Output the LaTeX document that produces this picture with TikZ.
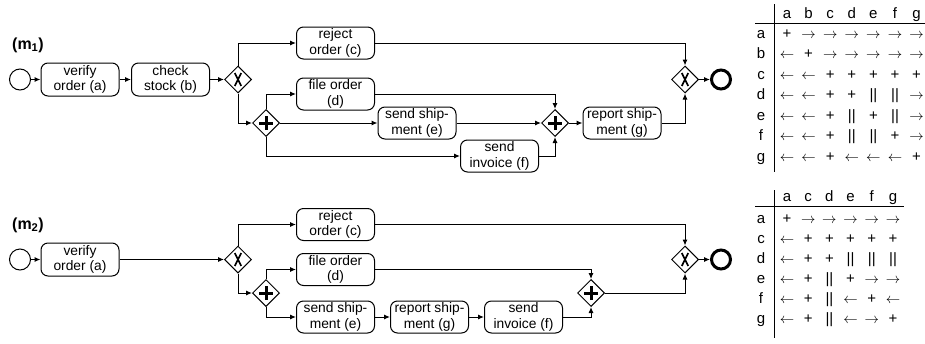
\documentclass[tikz,border=0pt]{standalone}
\usepackage{fontspec}
\setmainfont{Liberation Sans}
\usetikzlibrary{shapes.geometric,arrows.meta}
\newcommand{\tra}{$\rightarrow$}
\newcommand{\tla}{$\leftarrow$}
\newcommand{\tpl}{+}
\newcommand{\tpa}{||}
\begin{document}
\begin{tikzpicture}[x=1pt,y=-1pt,
  task/.style={draw, line width=1pt, rounded corners=7pt, minimum width=78pt, minimum height=33pt,
    inner sep=0.5pt, align=center, font=\fontsize{13.8}{15.8}\selectfont},
  gw/.style={draw, diamond, aspect=1, minimum width=27pt, minimum height=27pt, inner sep=0pt, line width=1pt},
  xorgw/.style={gw, path picture={
    \draw[line width=1.7pt] ([shift={(-3.2pt,-6.5pt)}]path picture bounding box.center) -- ([shift={(3.2pt,6.5pt)}]path picture bounding box.center);
    \draw[line width=1.7pt] ([shift={(-3.2pt,6.5pt)}]path picture bounding box.center) -- ([shift={(3.2pt,-6.5pt)}]path picture bounding box.center);}},
  andgw/.style={gw, path picture={
    \draw[line width=3pt] ([shift={(-7pt,0pt)}]path picture bounding box.center) -- ([shift={(7pt,0pt)}]path picture bounding box.center);
    \draw[line width=3pt] ([shift={(0pt,-7pt)}]path picture bounding box.center) -- ([shift={(0pt,7pt)}]path picture bounding box.center);}},
  startev/.style={draw, circle, minimum size=21pt, inner sep=0pt, line width=1pt},
  endev/.style={draw, circle, minimum size=19pt, inner sep=0pt, line width=3pt},
  flow/.style={draw, line width=1pt, -{Latex[length=6pt,width=5pt]}},
  mlabel/.style={font=\bfseries\fontsize{16}{19}\selectfont, inner sep=0pt},
  tcell/.style={font=\fontsize{15}{17}\selectfont, inner sep=0pt, anchor=base},
  tline/.style={line width=0.8pt}
]
\useasboundingbox (0,0) rectangle (925,343);

% ---------- model 1 ----------
\node[mlabel] (m1) at (28,45) {(m\textsubscript{1})};
\node[startev] (s1) at (20,79.5) {};
\node[task] (a1) at (80,79.5) {verify\\order (a)};
\node[task] (b1) at (170.5,79.5) {check\\stock (b)};
\node[xorgw] (x1) at (238,79.5) {};
\node[task, minimum height=32pt] (c1) at (335.5,43) {reject\\order (c)};
\node[andgw] (p1) at (266,123) {};
\node[task, minimum height=32pt] (d1) at (335.5,94) {file order\\(d)};
\node[task, minimum height=32pt] (e1) at (417,123) {send ship-\\ment (e)};
\node[task, minimum height=32pt] (f1) at (499.5,156) {send\\invoice (f)};
\node[andgw] (j1) at (555,123) {};
\node[task, minimum height=32pt] (g1) at (622,123) {report ship-\\ment (g)};
\node[xorgw] (x2) at (685,79.5) {};
\node[endev] (n1) at (721,79.5) {};

\draw[flow] (s1) -- (a1);
\draw[flow] (a1) -- (b1);
\draw[flow] (b1) -- (x1);
\draw[flow] (x1.north) |- (c1.west);
\draw[flow] (x1.south) |- (p1.west);
\draw[flow] (p1.north) |- (d1.west);
\draw[flow] (p1.east) -- (e1.west);
\draw[flow] (p1.south) |- (f1.west);
\draw[flow] (d1.east) -| (j1.north);
\draw[flow] (e1.east) -- (j1.west);
\draw[flow] (f1.east) -| (j1.south);
\draw[flow] (j1.east) -- (g1.west);
\draw[flow] (c1.east) -| (x2.north);
\draw[flow] (g1.east) -| (x2.south);
\draw[flow] (x2.east) -- (n1.west);

% ---------- model 2 ----------
\node[mlabel] (m2) at (28,225) {(m\textsubscript{2})};
\node[startev] (s2) at (20,259.5) {};
\node[task] (a2) at (80,259.5) {verify\\order (a)};
\node[xorgw] (x3) at (238,259.5) {};
\node[task, minimum height=32pt] (c2) at (335.5,224.5) {reject\\order (c)};
\node[andgw] (p2) at (266,293) {};
\node[task, minimum height=32pt] (d2) at (335.5,269.5) {file order\\(d)};
\node[task, minimum height=32pt] (e2) at (335.5,317) {send ship-\\ment (e)};
\node[task, minimum height=32pt] (g2) at (429.5,317) {report ship-\\ment (g)};
\node[task, minimum height=32pt] (f2) at (523.5,317) {send\\invoice (f)};
\node[andgw] (j2) at (591,293) {};
\node[xorgw] (x4) at (685,259.5) {};
\node[endev] (n2) at (721,259.5) {};

\draw[flow] (s2) -- (a2);
\draw[flow] (a2) -- (x3);
\draw[flow] (x3.north) |- (c2.west);
\draw[flow] (x3.south) |- (p2.west);
\draw[flow] (p2.north) |- (d2.west);
\draw[flow] (p2.south) |- (e2.west);
\draw[flow] (e2) -- (g2);
\draw[flow] (g2) -- (f2);
\draw[flow] (d2.east) -| (j2.north);
\draw[flow] (f2.east) -| (j2.south);
\draw[flow] (c2.east) -| (x4.north);
\draw[flow] (j2.east) -| (x4.south);
\draw[flow] (x4.east) -- (n2.west);

% ---------- table 1 ----------
\draw[tline] (755,23) -- (925,23);
\draw[tline] (774,4) -- (774,172);
\foreach \hh [count=\i from 0] in {a,b,c,d,e,f,g}
  \node[tcell] (t1h\hh) at (787+21.6*\i,18) {\hh};
\foreach \rl/\ents [count=\ri from 0] in {
  a/{\tpl,\tra,\tra,\tra,\tra,\tra,\tra},
  b/{\tla,\tpl,\tra,\tra,\tra,\tra,\tra},
  c/{\tla,\tla,\tpl,\tpl,\tpl,\tpl,\tpl},
  d/{\tla,\tla,\tpl,\tpl,\tpa,\tpa,\tra},
  e/{\tla,\tla,\tpl,\tpa,\tpl,\tpa,\tra},
  f/{\tla,\tla,\tpl,\tpa,\tpa,\tpl,\tra},
  g/{\tla,\tla,\tpl,\tla,\tla,\tla,\tpl}} {
  \node[tcell] (t1l\rl) at (761,38+20.5*\ri) {\rl};
  \foreach \en [count=\ci from 0] in \ents
    \node[tcell] (t1c\rl\ci) at (787+21.6*\ci,38+20.5*\ri) {\en};
}

% ---------- table 2 ----------
\draw[tline] (755,206) -- (904,206);
\draw[tline] (774,190) -- (774,338);
\foreach \hh [count=\i from 0] in {a,c,d,e,f,g}
  \node[tcell] (t2h\hh) at (787+21.2*\i,201) {\hh};
\foreach \rl/\ents [count=\ri from 0] in {
  a/{\tpl,\tra,\tra,\tra,\tra,\tra},
  c/{\tla,\tpl,\tpl,\tpl,\tpl,\tpl},
  d/{\tla,\tpl,\tpl,\tpa,\tpa,\tpa},
  e/{\tla,\tpl,\tpa,\tpl,\tra,\tra},
  f/{\tla,\tpl,\tpa,\tla,\tpl,\tla},
  g/{\tla,\tpl,\tpa,\tla,\tra,\tpl}} {
  \node[tcell] (t2l\rl) at (761,223+20*\ri) {\rl};
  \foreach \en [count=\ci from 0] in \ents
    \node[tcell] (t2c\rl\ci) at (787+21.2*\ci,223+20*\ri) {\en};
}
\end{tikzpicture}
\end{document}
